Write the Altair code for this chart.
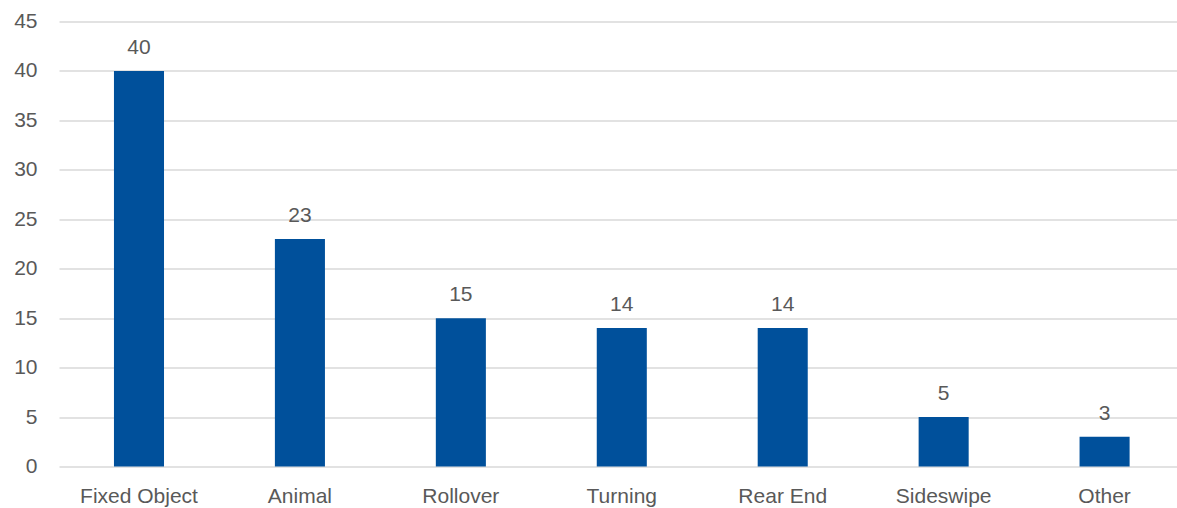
import altair as alt
import pandas as pd

categories = ["Fixed Object", "Animal", "Rollover", "Turning", "Rear End", "Sideswipe", "Other"]
values = [40, 23, 15, 14, 14, 5, 3]

df = pd.DataFrame({"cat": categories, "val": values})

FONT = "Liberation Sans"
GRAY = "#595959"

x = alt.X("cat:N", sort=categories, title=None,
          scale=alt.Scale(paddingInner=0.689, paddingOuter=0.318, align=0.537),
          axis=alt.Axis(labelAngle=0, labelFontSize=21, labelColor=GRAY, labelFont=FONT,
                        ticks=False, domain=False, labelPadding=19, grid=False))
y = alt.Y("val:Q", title=None,
          scale=alt.Scale(domain=[0, 45], nice=False),
          axis=alt.Axis(values=[0, 5, 10, 15, 20, 25, 30, 35, 40, 45], labelFontSize=21,
                        labelColor=GRAY, labelFont=FONT, ticks=False, domain=False,
                        labelPadding=22, gridColor="#d9d9d9", gridWidth=1.5))

bars = alt.Chart(df).mark_bar(color="#00509b").encode(x=x, y=y)
labels = alt.Chart(df).mark_text(dy=-17, fontSize=21, color=GRAY, font=FONT, baseline="alphabetic").encode(
    x=alt.X("cat:N", sort=categories), y="val:Q", text="val:Q")

chart = (bars + labels).properties(
    width=1118, height=445,
    autosize=alt.AutoSizeParams(type="none"),
    padding={"left": 59, "top": 21.5, "right": 0, "bottom": 41.5},
).configure_view(stroke=None)

chart.save("out.html", embed_options={"renderer": "svg", "actions": False})
